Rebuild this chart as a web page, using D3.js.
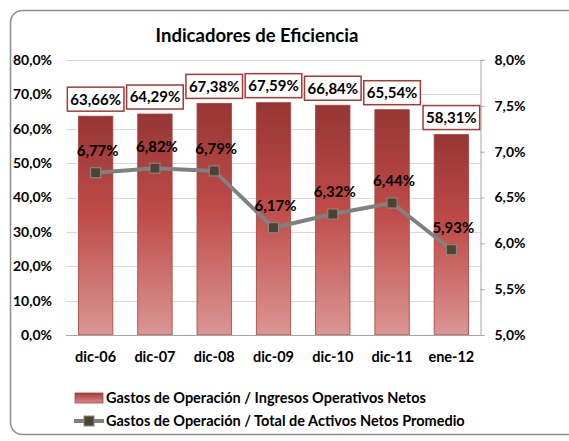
<!DOCTYPE html>
<html>
<head>
<meta charset="utf-8">
<script src="https://cdn.jsdelivr.net/npm/d3@7/dist/d3.min.js"></script>
<style>
  body { margin: 0; background: #fff; }
  text { font-family: Lato, "Open Sans", sans-serif; font-weight: bold; fill: #000; }
</style>
</head>
<body>
<div id="chart"></div>
<script>
// data
var periods = ["dic-06", "dic-07", "dic-08", "dic-09", "dic-10", "dic-11", "ene-12"];
var gastosIngresos = [63.66, 64.29, 67.38, 67.59, 66.84, 65.54, 58.31];
var gastosActivos = [6.77, 6.82, 6.79, 6.17, 6.32, 6.44, 5.93];
var leftTicks = [0, 10, 20, 30, 40, 50, 60, 70, 80];
var rightTicks = [5.0, 5.5, 6.0, 6.5, 7.0, 7.5, 8.0];
var seriesNames = ["Gastos de Operación / Ingresos Operativos Netos",
                   "Gastos de Operación / Total de Activos Netos Promedio"];

var width = 569, height = 441;
var plot = { left: 66, right: 481, top: 60, bottom: 335 };

var fmt = function (v, d) { return v.toFixed(d).replace(".", ",") + "%"; };

var svg = d3.select("#chart").append("svg")
    .attr("width", width)
    .attr("height", height);

var defs = svg.append("defs");
var grad = defs.append("linearGradient")
    .attr("id", "barGrad")
    .attr("x1", 0).attr("y1", 0).attr("x2", 0).attr("y2", 1);
grad.append("stop").attr("offset", "0%").attr("stop-color", "#963634");
grad.append("stop").attr("offset", "45%").attr("stop-color", "#bf4b48");
grad.append("stop").attr("offset", "100%").attr("stop-color", "#da9694");

var legGrad = defs.append("linearGradient")
    .attr("id", "legGrad")
    .attr("x1", 0).attr("y1", 0).attr("x2", 0).attr("y2", 1);
legGrad.append("stop").attr("offset", "0%").attr("stop-color", "#a33b39");
legGrad.append("stop").attr("offset", "100%").attr("stop-color", "#d98a88");

// outer frame
svg.append("rect")
    .attr("x", 10.5).attr("y", 10.5)
    .attr("width", 580).attr("height", 424)
    .attr("rx", 12).attr("ry", 12)
    .attr("fill", "#fff")
    .attr("stroke", "#8c8c8c")
    .attr("stroke-width", 1.5);

svg.append("text")
    .attr("x", 257).attr("y", 42)
    .attr("text-anchor", "middle")
    .style("font-size", "18.5px")
    .text("Indicadores de Eficiencia");

var x = d3.scaleBand()
    .domain(periods)
    .range([plot.left, plot.right])
    .paddingInner(0.42)
    .paddingOuter(0.21);

var yL = d3.scaleLinear().domain([0, 80]).range([plot.bottom, plot.top]);
var yR = d3.scaleLinear().domain([5, 8]).range([plot.bottom, plot.top]);

// gridlines
svg.append("g").selectAll("line")
    .data(leftTicks.slice(1))
    .enter().append("line")
    .attr("x1", plot.left).attr("x2", plot.right)
    .attr("y1", function (d) { return Math.round(yL(d)) + 0.5; })
    .attr("y2", function (d) { return Math.round(yL(d)) + 0.5; })
    .attr("stroke", "#d9d9d9");

// left axis labels
svg.append("g").selectAll("text")
    .data(leftTicks)
    .enter().append("text")
    .attr("x", 52)
    .attr("y", function (d) { return yL(d); })
    .attr("dy", "0.35em")
    .attr("text-anchor", "end")
    .style("font-size", "14px")
    .text(function (d) { return fmt(d, 1); });

// right axis
var rightAxis = d3.axisRight(yR)
    .tickValues(rightTicks)
    .tickSize(4)
    .tickPadding(10)
    .tickFormat(function (d) { return fmt(d, 1); });
var gR = svg.append("g")
    .attr("transform", "translate(" + (plot.right - 0.5) + ",0)")
    .call(rightAxis);
gR.select(".domain").attr("stroke", "#a6a6a6");
gR.selectAll(".tick line").attr("stroke", "#a6a6a6");
gR.selectAll(".tick text")
    .style("font-size", "14px")
    .style("font-family", "Lato, sans-serif")
    .style("font-weight", "bold")
    .attr("fill", "#000");

// bars
svg.append("g").selectAll("rect")
    .data(gastosIngresos)
    .enter().append("rect")
    .attr("x", function (d, i) { return x(periods[i]); })
    .attr("y", function (d) { return yL(d); })
    .attr("width", x.bandwidth())
    .attr("height", function (d) { return yL(0) - yL(d); })
    .attr("fill", "url(#barGrad)")
    .attr("stroke", "#a8403d")
    .attr("stroke-width", 0.8);

// baseline
svg.append("line")
    .attr("x1", plot.left).attr("x2", plot.right)
    .attr("y1", plot.bottom + 0.5).attr("y2", plot.bottom + 0.5)
    .attr("stroke", "#a6a6a6");

// bar labels in boxes
var barLab = svg.append("g").selectAll("g")
    .data(gastosIngresos)
    .enter().append("g")
    .attr("transform", function (d, i) {
        return "translate(" + (x(periods[i]) + x.bandwidth() / 2) + "," + (yL(d) - 17) + ")";
    });
barLab.append("rect")
    .attr("fill", "#fff")
    .attr("stroke", "#a33b39")
    .attr("stroke-width", 1.5);
barLab.append("text")
    .attr("text-anchor", "middle")
    .attr("dy", "0.36em")
    .style("font-size", "15px")
    .text(function (d) { return fmt(d, 2); });
barLab.each(function () {
    var g = d3.select(this);
    var w = g.select("text").node().getComputedTextLength();
    g.select("rect")
        .attr("x", -w / 2 - 3).attr("y", -12)
        .attr("width", w + 6).attr("height", 24);
});

// line series
var cx = function (i) { return x(periods[i]) + x.bandwidth() / 2; };
var line = d3.line()
    .x(function (d, i) { return cx(i); })
    .y(function (d) { return yR(d); });

svg.append("path")
    .datum(gastosActivos)
    .attr("d", line)
    .attr("fill", "none")
    .attr("stroke", "#808080")
    .attr("stroke-width", 4)
    .attr("stroke-linejoin", "round");

svg.append("g").selectAll("rect")
    .data(gastosActivos)
    .enter().append("rect")
    .attr("x", function (d, i) { return cx(i) - 5; })
    .attr("y", function (d) { return yR(d) - 5; })
    .attr("width", 10).attr("height", 10)
    .attr("fill", "#4a4430")
    .attr("stroke", "#8c8c8c")
    .attr("stroke-width", 1);

svg.append("g").selectAll("text")
    .data(gastosActivos)
    .enter().append("text")
    .attr("x", function (d, i) { return cx(i) + 2; })
    .attr("y", function (d) { return yR(d) - 22; })
    .attr("dy", "0.36em")
    .attr("text-anchor", "middle")
    .style("font-size", "15px")
    .text(function (d) { return fmt(d, 2); });

// category labels
svg.append("g").selectAll("text")
    .data(periods)
    .enter().append("text")
    .attr("x", function (d) { return x(d) + x.bandwidth() / 2; })
    .attr("y", 357)
    .attr("dy", "0.36em")
    .attr("text-anchor", "middle")
    .style("font-size", "14.5px")
    .text(function (d) { return d; });

// legend
var leg = svg.append("g");
leg.append("rect")
    .attr("x", 75).attr("y", 393)
    .attr("width", 28).attr("height", 10)
    .attr("fill", "url(#legGrad)")
    .attr("stroke", "#a8403d")
    .attr("stroke-width", 0.8);
leg.append("text")
    .attr("x", 106).attr("y", 398)
    .attr("dy", "0.36em")
    .style("font-size", "14.5px")
    .text(seriesNames[0]);
leg.append("line")
    .attr("x1", 74).attr("x2", 104)
    .attr("y1", 421).attr("y2", 421)
    .attr("stroke", "#808080")
    .attr("stroke-width", 4);
leg.append("rect")
    .attr("x", 84).attr("y", 416)
    .attr("width", 10).attr("height", 10)
    .attr("fill", "#4a4430")
    .attr("stroke", "#8c8c8c");
leg.append("text")
    .attr("x", 106).attr("y", 421)
    .attr("dy", "0.36em")
    .style("font-size", "14.5px")
    .text(seriesNames[1]);
</script>
</body>
</html>
